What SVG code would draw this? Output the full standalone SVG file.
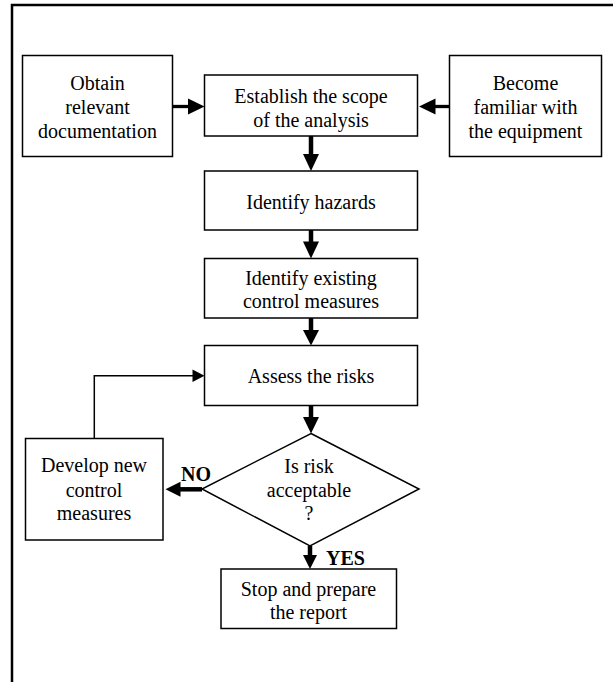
<svg xmlns="http://www.w3.org/2000/svg" width="613" height="682" viewBox="0 0 613 682">
<style>
.box{fill:#fff;stroke:#000;stroke-width:1.5}
.t{font-family:"Liberation Serif","Times New Roman",serif;font-size:20px;fill:#000;text-anchor:middle}
.b{font-weight:bold}
.thick{stroke:#000;stroke-width:4.5;fill:none}
.thin{stroke:#000;stroke-width:1.5;fill:none}
.head{fill:#000}
</style>
<rect width="613" height="682" fill="#fff"/>
<path d="M12,682 V5 H613" fill="none" stroke="#000" stroke-width="2.5"/>
<g id="obtain"><rect class="box" x="22.5" y="55.5" width="150" height="101"/>
<text class="t" x="97.5" y="90">Obtain</text><text class="t" x="97.5" y="114">relevant</text><text class="t" x="97.5" y="138">documentation</text></g>
<g id="establish"><rect class="box" x="204.5" y="75" width="213" height="61"/>
<text class="t" x="311" y="103">Establish the scope</text><text class="t" x="311" y="127">of the analysis</text></g>
<g id="become"><rect class="box" x="449.5" y="55.5" width="152" height="101"/>
<text class="t" x="525.5" y="90">Become</text><text class="t" x="525.5" y="114">familiar with</text><text class="t" x="525.5" y="138">the equipment</text></g>
<g id="hazards"><rect class="box" x="204.5" y="171" width="213" height="59"/>
<text class="t" x="311" y="209">Identify hazards</text></g>
<g id="existing"><rect class="box" x="204.5" y="258.5" width="213" height="59.5"/>
<text class="t" x="311" y="285">Identify existing</text><text class="t" x="311" y="308">control measures</text></g>
<g id="assess"><rect class="box" x="204.5" y="345.5" width="213" height="60"/>
<text class="t" x="311" y="383">Assess the risks</text></g>
<g id="decision"><polygon class="box" points="311,433.5 419,489 310,546 202,489"/>
<text class="t" x="309" y="473">Is risk</text><text class="t" x="309" y="497">acceptable</text><text class="t" x="309" y="520">?</text></g>
<g id="develop"><rect class="box" x="25.5" y="438.5" width="137.5" height="101.5"/>
<text class="t" x="94" y="472">Develop new</text><text class="t" x="94" y="497">control</text><text class="t" x="94" y="520">measures</text></g>
<g id="stop"><rect class="box" x="221" y="569" width="175.5" height="59.5"/>
<text class="t" x="308.5" y="596">Stop and prepare</text><text class="t" x="308.5" y="619">the report</text></g>
<g id="connectors">
<line class="thick" x1="172.5" y1="106.5" x2="189" y2="106.5" style="stroke-width:3.3"/>
<polygon class="head" points="188,98.5 204.5,106.5 188,114.5"/>
<line class="thick" x1="449.5" y1="106.5" x2="434" y2="106.5" style="stroke-width:3.3"/>
<polygon class="head" points="435.5,98.5 419,106.5 435.5,114.5"/>
<line class="thick" x1="311" y1="136" x2="311" y2="156"/>
<polygon class="head" points="303,154 319,154 311,171"/>
<line class="thick" x1="311" y1="230" x2="311" y2="243"/>
<polygon class="head" points="303,241.5 319,241.5 311,258.5"/>
<line class="thick" x1="311" y1="318" x2="311" y2="332"/>
<polygon class="head" points="303,330 319,330 311,345.5"/>
<line class="thick" x1="311" y1="405.5" x2="311" y2="419"/>
<polygon class="head" points="303,417 319,417 311,433.5"/>
<polyline class="thin" points="94.3,438.5 94.3,375.8 194,375.8"/>
<polygon class="head" points="192.5,369.5 204.5,375.8 192.5,382"/>
<line class="thick" x1="202" y1="489.3" x2="179" y2="489.3"/>
<polygon class="head" points="180.5,481.8 165.5,489.3 180.5,496.8"/>
<text class="t b" x="196" y="481">NO</text>
<line class="thick" x1="310" y1="546" x2="310" y2="557"/>
<polygon class="head" points="303,555 317,555 310,569"/>
<text class="t b" x="326" y="565" style="text-anchor:start">YES</text>
</g>
</svg>
